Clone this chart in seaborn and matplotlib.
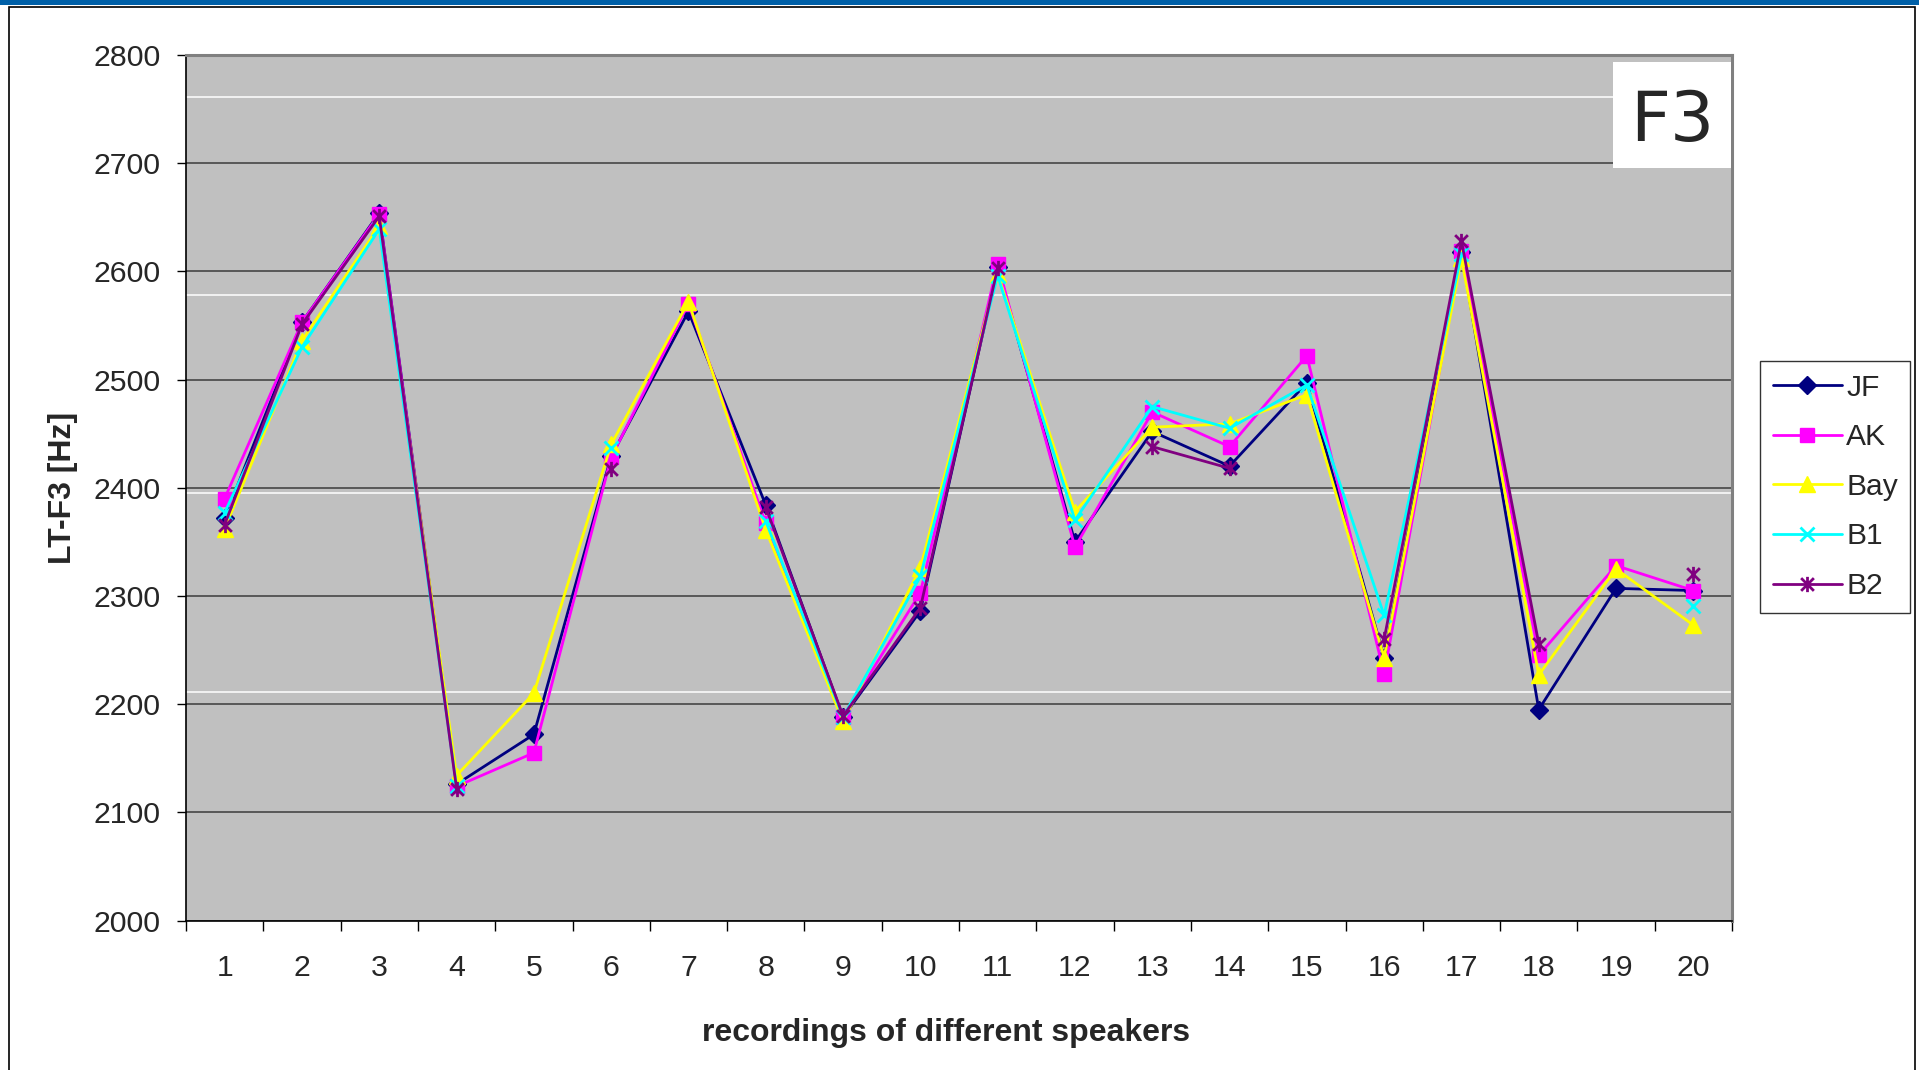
import numpy as np
import pandas as pd
import seaborn as sns
import matplotlib.pyplot as plt
from matplotlib.path import Path
from matplotlib.patches import Rectangle
from matplotlib.lines import Line2D

nan = np.nan

recordings = list(range(1, 21))
speakers = ["JF", "AK", "Bay", "B1", "B2"]

jf = [2372, 2553, 2654, 2126, 2172, 2429, 2563, 2384, 2188, 2286,
      2604, 2350, 2452, 2420, 2497, 2243, 2618, 2195, 2307, 2305]
ak = [2390, 2553, 2653, 2124, 2155, 2428, 2570, 2367, 2188, 2303,
      2607, 2345, 2470, 2438, 2522, 2228, 2619, 2245, 2328, 2305]
bay = [2362, 2536, 2642, 2134, 2210, 2440, 2572, 2361, 2184, 2326,
       2598, 2378, 2456, 2459, 2486, 2243, 2612, 2227, 2325, 2273]
b1 = [2377, 2530, 2639, 2124, nan, 2437, nan, 2369, 2188, 2318,
      2596, 2370, 2475, 2455, 2495, 2282, 2616, nan, nan, 2291]
b2 = [2366, 2551, 2651, 2122, nan, 2417, nan, 2382, 2189, 2289,
      2603, nan, 2438, 2418, nan, 2260, 2628, 2256, nan, 2320]

# odd white lines that sit on the grey plot area of the slide
white_lines = [2761, 2578, 2395, 2211]

colors = {"JF": "#000080", "AK": "#FF00FF", "Bay": "#FFFF00",
          "B1": "#00FFFF", "B2": "#800080"}

asterisk = Path([(-1, -1), (1, 1), (-1, 1), (1, -1), (0, -1.2), (0, 1.2)],
                [Path.MOVETO, Path.LINETO] * 3)
marker_kw = {
    "JF": dict(marker="D", ms=9, mfc=colors["JF"], markeredgewidth=1),
    "AK": dict(marker="s", ms=9.5, mfc=colors["AK"], markeredgewidth=1),
    "Bay": dict(marker="^", ms=11.5, mfc=colors["Bay"], markeredgewidth=1),
    "B1": dict(marker="x", ms=10.5, mfc="none", markeredgewidth=2),
    "B2": dict(marker=asterisk, ms=11, mfc="none", markeredgewidth=2),
}

series = {"JF": jf, "AK": ak, "Bay": bay, "B1": b1, "B2": b2}
df = pd.concat(
    [pd.DataFrame({"rec": recordings, "F3": vals, "speaker": name})
     for name, vals in series.items()],
    ignore_index=True,
)

sns.set_style("white")
plt.rcParams["font.family"] = ["Liberation Sans", "DejaVu Sans"]

fig = plt.figure(figsize=(19.19, 10.70), dpi=100)
ax = fig.add_axes([186 / 1919, 1 - 920.5 / 1070, 1546 / 1919, 865.5 / 1070])
ax.set_facecolor("#C0C0C0")

for name in speakers:
    d = df[df["speaker"] == name].copy()
    # excel leaves a gap at empty cells -> split into separate units
    d["seg"] = d["F3"].isna().cumsum()
    d = d.dropna()
    sns.lineplot(data=d, x="rec", y="F3", units="seg", estimator=None,
                 sort=False, color=colors[name], lw=2, ax=ax, legend=False,
                 markeredgecolor=colors[name], zorder=3, **marker_kw[name])

for y in white_lines:
    ax.axhline(y, color="white", lw=1.1, zorder=1)

ax.set_ylim(2000, 2800)
ax.set_yticks(np.arange(2000, 2801, 100))
ax.set_xlim(0.5, 20.5)
ax.set_xticks(np.arange(0.5, 20.6, 1))
ax.set_xticklabels([])
ax.set_xticks(recordings, minor=True)
ax.set_xticklabels([str(r) for r in recordings], minor=True)
ax.yaxis.grid(True, color="#505050", lw=1.3, zorder=0)
ax.set_axisbelow(True)

ax.tick_params(axis="y", which="major", direction="out", length=6.5, width=1,
               color="black", labelsize=21.8, pad=12, left=True)
ax.tick_params(axis="x", which="major", direction="out", length=7.2, width=1,
               color="black", bottom=True)
ax.tick_params(axis="x", which="minor", length=0, labelsize=21.8, pad=24)

for side in ["left", "bottom"]:
    ax.spines[side].set_color("black")
    ax.spines[side].set_linewidth(1.2)
for side in ["top", "right"]:
    ax.spines[side].set_color("#808080")
    ax.spines[side].set_linewidth(2.2)

ax.set_xlabel("recordings of different speakers", fontsize=23, fontweight="bold")
ax.set_ylabel("LT-F3 [Hz]", fontsize=23, fontweight="bold")
ax.xaxis.set_label_coords(0.4916, -0.1127)
ax.yaxis.set_label_coords(-0.0698, 0.5)

handles = [Line2D([0], [0], color=colors[n], lw=2, markeredgecolor=colors[n],
                  **marker_kw[n]) for n in speakers]
leg = fig.legend(handles, speakers, loc="upper left",
                 bbox_to_anchor=(1760 / 1919, 1 - 361 / 1070),
                 fontsize=21.6, frameon=True, fancybox=False,
                 handlelength=2.3, handletextpad=0.15, labelspacing=0.72,
                 borderpad=0.42, borderaxespad=0)
leg.get_frame().set_edgecolor("black")
leg.get_frame().set_linewidth(1)

# "F3" label box over the top right of the plot
fig.add_artist(Rectangle((1613 / 1919, 1 - 168 / 1070), 118 / 1919, 106 / 1070,
                         facecolor="white", edgecolor="none", zorder=5))
fig.text(1672 / 1919, 1 - 122 / 1070, "F3", fontsize=50, family="DejaVu Sans",
         ha="center", va="center", zorder=6)

# slide frame and blue strip
fig.add_artist(Rectangle((9 / 1919, -0.01), 1906 / 1919, 1.01 - 7 / 1070,
                         fill=False, edgecolor="black", lw=1.2, zorder=4))
fig.add_artist(Rectangle((0, 1 - 5 / 1070), 1, 5 / 1070,
                         facecolor="#0060A8", edgecolor="none", zorder=4))

fig.savefig("out.png", dpi=100)
